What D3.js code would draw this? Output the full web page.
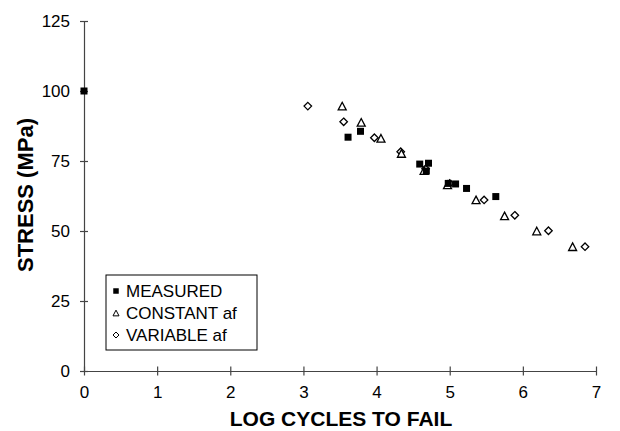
<!DOCTYPE html>
<html>
<head>
<meta charset="utf-8">
<script src="https://cdn.jsdelivr.net/npm/d3@7"></script>
<style>
  body { margin: 0; background: #fff; }
  svg { display: block; font-family: "Liberation Sans", Arial, sans-serif; }
</style>
</head>
<body>
<div id="chart"></div>
<script>
// values
var measuredX = [0, 3.61, 3.78, 4.59, 4.71, 4.68, 4.98, 5.08, 5.23, 5.63];
var measuredY = [100, 83.5, 85.6, 73.9, 74.2, 71.4, 67.0, 66.8, 65.2, 62.3];

var constantX = [3.53, 3.79, 4.06, 4.34, 4.65, 4.97, 5.36, 5.75, 6.19, 6.68];
var constantY = [94.6, 88.8, 83.1, 77.7, 71.6, 66.5, 61.1, 55.4, 50.0, 44.4];

var variableX = [3.06, 3.55, 3.97, 4.33, 4.67, 5.0, 5.47, 5.89, 6.35, 6.85];
var variableY = [94.6, 89.0, 83.3, 78.3, 72.2, 67.0, 61.1, 55.6, 50.1, 44.4];

var xTicks = [0, 1, 2, 3, 4, 5, 6, 7];
var yTicks = [0, 25, 50, 75, 100, 125];
var legendLabels = ["MEASURED", "CONSTANT af", "VARIABLE af"];

var width = 620, height = 431;

var svg = d3.select("#chart")
  .append("svg")
  .attr("width", width)
  .attr("height", height);

var x = d3.scaleLinear().domain([0, 7]).range([84, 596]);
var y = d3.scaleLinear().domain([0, 125]).range([371, 21]);

// axes, ticks cross the line
var xAxis = svg.append("g")
  .attr("transform", "translate(0," + y(0) + ")")
  .call(d3.axisBottom(x).tickValues(xTicks).tickFormat(d3.format("d"))
    .tickSize(4.5).tickSizeOuter(0).tickPadding(10));
xAxis.selectAll(".tick line").attr("y1", -4.5);
xAxis.selectAll("text").attr("font-size", 17).attr("fill", "#000").attr("font-family", "Liberation Sans, Arial");

var yAxis = svg.append("g")
  .attr("transform", "translate(" + x(0) + ",0)")
  .call(d3.axisLeft(y).tickValues(yTicks).tickFormat(d3.format("d"))
    .tickSize(4).tickSizeOuter(0).tickPadding(10));
yAxis.selectAll(".tick line").attr("x1", 4);
yAxis.selectAll("text").attr("font-size", 17).attr("fill", "#000").attr("font-family", "Liberation Sans, Arial");

svg.selectAll(".domain, .tick line").attr("stroke", "#444").attr("stroke-width", 1.2);

// axis titles
svg.append("text")
  .attr("x", 341)
  .attr("y", 426)
  .attr("text-anchor", "middle")
  .attr("font-size", 21)
  .attr("font-weight", "bold")
  .text("LOG CYCLES TO FAIL");

svg.append("text")
  .attr("transform", "translate(33,195) rotate(-90)")
  .attr("text-anchor", "middle")
  .attr("font-size", 22)
  .attr("font-weight", "bold")
  .text("STRESS (MPa)");

// marker shapes
function square(s) { return d3.symbol().type(d3.symbolSquare).size(s * s)(); }
function triangle(s) {
  var h = s * 0.95;
  return "M0," + (-h / 2) + "L" + (s / 2) + "," + (h / 2) + "L" + (-s / 2) + "," + (h / 2) + "Z";
}
function diamond(s) {
  var r = s / 2;
  return "M0," + (-r) + "L" + r + ",0L0," + r + "L" + (-r) + ",0Z";
}

var plot = svg.append("g");

plot.selectAll(".var")
  .data(d3.zip(variableX, variableY))
  .enter()
  .append("path")
  .attr("class", "var")
  .attr("transform", function(d) { return "translate(" + x(d[0]) + "," + y(d[1]) + ")"; })
  .attr("d", diamond(7.5))
  .attr("fill", "#fff")
  .attr("stroke", "#000")
  .attr("stroke-width", 1.3);

plot.selectAll(".con")
  .data(d3.zip(constantX, constantY))
  .enter()
  .append("path")
  .attr("class", "con")
  .attr("transform", function(d) { return "translate(" + x(d[0]) + "," + y(d[1]) + ")"; })
  .attr("d", triangle(8))
  .attr("fill", "#fff")
  .attr("stroke", "#000")
  .attr("stroke-width", 1.3);

plot.selectAll(".mea")
  .data(d3.zip(measuredX, measuredY))
  .enter()
  .append("path")
  .attr("class", "mea")
  .attr("transform", function(d) { return "translate(" + x(d[0]) + "," + y(d[1]) + ")"; })
  .attr("d", square(7))
  .attr("fill", "#000");

// legend
var legend = svg.append("g").attr("transform", "translate(106,275)");
legend.append("rect")
  .attr("width", 151)
  .attr("height", 75)
  .attr("fill", "#fff")
  .attr("stroke", "#000")
  .attr("stroke-width", 1);

var rows = legend.selectAll(".row")
  .data(legendLabels)
  .enter()
  .append("g")
  .attr("transform", function(d, i) { return "translate(0," + (16 + i * 22) + ")"; });

rows.append("path")
  .attr("transform", "translate(10,0)")
  .attr("d", function(d, i) {
    if (i == 0) return square(5.5);
    if (i == 1) return triangle(6);
    return diamond(6);
  })
  .attr("fill", function(d, i) { return i == 0 ? "#000" : "#fff"; })
  .attr("stroke", "#000")
  .attr("stroke-width", function(d, i) { return i == 0 ? 0 : 1; });

rows.append("text")
  .attr("x", 20)
  .attr("y", 6)
  .attr("font-size", 17)
  .text(function(d) { return d; });
</script>
</body>
</html>
